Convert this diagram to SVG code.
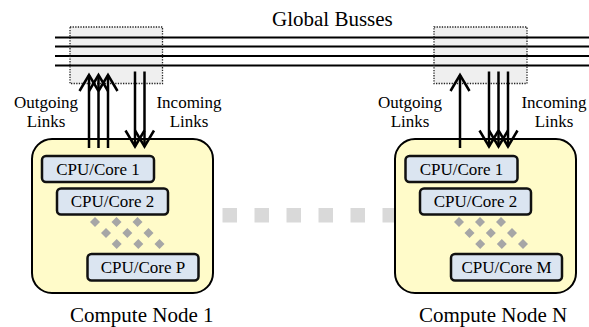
<svg xmlns="http://www.w3.org/2000/svg" width="589" height="327" viewBox="0 0 589 327">
  <style>
    .bus { stroke: #000; stroke-width: 2; }
    .switch { fill: #efefef; stroke: #222; stroke-width: 1.3; stroke-dasharray: 1.3 1.3; }
    .node { fill: #fffbc9; stroke: #000; stroke-width: 2; }
    .core { fill: #dbe5f1; stroke: #111; stroke-width: 2.5; }
    .dot { fill: #a6a6a6; }
    .gap { fill: #d9d9d9; }
    .link { stroke: #000; stroke-width: 2.5; fill: none; marker-end: url(#vhead); }
  </style>
  <defs>
    <marker id="vhead" markerUnits="userSpaceOnUse" viewBox="-20 -12 24 24" refX="0" refY="0" markerWidth="24" markerHeight="24" orient="auto" overflow="visible">
      <path d="M-16,-9.5 L0,0 L-16,9.5" fill="none" stroke="#000" stroke-width="2.5" stroke-linejoin="miter"/>
    </marker>
    <path id="diam" d="M0,-5 L5,0 L0,5 L-5,0 Z"/>
  </defs>

  <!-- global bus with switch boxes -->
  <g id="global-busses">
    <rect class="switch" x="70" y="27" width="92.5" height="56.5" style="stroke:none"/>
    <rect class="switch" x="434" y="27" width="93" height="56.5" style="stroke:none"/>
    <line class="bus" x1="55" y1="37.5" x2="589" y2="37.5"/>
    <line class="bus" x1="55" y1="46.5" x2="589" y2="46.5"/>
    <line class="bus" x1="55" y1="56" x2="589" y2="56"/>
    <line class="bus" x1="55" y1="65.5" x2="589" y2="65.5"/>
    <rect class="switch" x="70" y="27" width="92.5" height="56.5" style="fill:none"/>
    <rect class="switch" x="434" y="27" width="93" height="56.5" style="fill:none"/>
    <text x="272" y="26" font-family="Liberation Serif" font-size="21">Global Busses</text>
  </g>

  <!-- spacer squares between the nodes -->
  <g id="ellipsis">
    <rect class="gap" x="222.5" y="208" width="14.5" height="14.5"/>
    <rect class="gap" x="254.5" y="208" width="14.5" height="14.5"/>
    <rect class="gap" x="286.5" y="208" width="14.5" height="14.5"/>
    <rect class="gap" x="318.5" y="208" width="14.5" height="14.5"/>
    <rect class="gap" x="350.5" y="208" width="14.5" height="14.5"/>
    <rect class="gap" x="382.5" y="208" width="14.5" height="14.5"/>
  </g>

  <!-- compute node 1 -->
  <g id="node-1">
    <rect class="node" x="32" y="139" width="181" height="154" rx="20"/>
    <rect class="core" x="42" y="156" width="112" height="26" rx="4"/>
    <text x="98" y="174.5" text-anchor="middle" font-family="Liberation Serif" font-size="17">CPU/Core 1</text>
    <rect class="core" x="57" y="188.5" width="111" height="26" rx="4"/>
    <text x="112.5" y="207" text-anchor="middle" font-family="Liberation Serif" font-size="17">CPU/Core 2</text>
    <use href="#diam" class="dot" x="95" y="222"/>
    <use href="#diam" class="dot" x="116.5" y="222"/>
    <use href="#diam" class="dot" x="137.5" y="222"/>
    <use href="#diam" class="dot" x="106" y="233"/>
    <use href="#diam" class="dot" x="127.3" y="233"/>
    <use href="#diam" class="dot" x="148.5" y="233"/>
    <use href="#diam" class="dot" x="116.7" y="244"/>
    <use href="#diam" class="dot" x="138.3" y="244"/>
    <use href="#diam" class="dot" x="159.5" y="244"/>
    <rect class="core" x="87.5" y="254" width="111" height="26.5" rx="4"/>
    <text x="143" y="273" text-anchor="middle" font-family="Liberation Serif" font-size="17">CPU/Core P</text>
    <text x="70" y="322" font-family="Liberation Serif" font-size="21">Compute Node 1</text>
  </g>

  <!-- compute node N -->
  <g id="node-n">
    <rect class="node" x="395" y="139" width="181" height="154" rx="20"/>
    <rect class="core" x="405.5" y="156" width="112" height="26" rx="4"/>
    <text x="461.5" y="174.5" text-anchor="middle" font-family="Liberation Serif" font-size="17">CPU/Core 1</text>
    <rect class="core" x="420" y="188.5" width="111" height="26" rx="4"/>
    <text x="475.5" y="207" text-anchor="middle" font-family="Liberation Serif" font-size="17">CPU/Core 2</text>
    <use href="#diam" class="dot" x="459" y="222"/>
    <use href="#diam" class="dot" x="480" y="222"/>
    <use href="#diam" class="dot" x="501" y="222"/>
    <use href="#diam" class="dot" x="469.5" y="233"/>
    <use href="#diam" class="dot" x="490.8" y="233"/>
    <use href="#diam" class="dot" x="512" y="233"/>
    <use href="#diam" class="dot" x="480.2" y="244"/>
    <use href="#diam" class="dot" x="501.8" y="244"/>
    <use href="#diam" class="dot" x="523" y="244"/>
    <rect class="core" x="451" y="254" width="111" height="26.5" rx="4"/>
    <text x="506.5" y="273" text-anchor="middle" font-family="Liberation Serif" font-size="17">CPU/Core M</text>
    <text x="419" y="322" font-family="Liberation Serif" font-size="21">Compute Node N</text>
  </g>

  <!-- links between nodes and the global busses -->
  <g id="connectors">
    <line class="link" x1="89" y1="148" x2="89" y2="75"/>
    <line class="link" x1="98.5" y1="148" x2="98.5" y2="75"/>
    <line class="link" x1="108" y1="148" x2="108" y2="75"/>
    <line class="link" x1="135" y1="71.5" x2="135" y2="146.5"/>
    <line class="link" x1="144.5" y1="71.5" x2="144.5" y2="146.5"/>
    <line class="link" x1="460" y1="148" x2="460" y2="75"/>
    <line class="link" x1="489" y1="71.5" x2="489" y2="146.5"/>
    <line class="link" x1="498.5" y1="71.5" x2="498.5" y2="146.5"/>
    <line class="link" x1="508" y1="71.5" x2="508" y2="146.5"/>
    <text x="46" y="107.5" text-anchor="middle" font-family="Liberation Serif" font-size="17">Outgoing</text>
    <text x="46" y="126.5" text-anchor="middle" font-family="Liberation Serif" font-size="17">Links</text>
    <text x="189" y="107.5" text-anchor="middle" font-family="Liberation Serif" font-size="17">Incoming</text>
    <text x="189" y="126.5" text-anchor="middle" font-family="Liberation Serif" font-size="17">Links</text>
    <text x="410" y="107.5" text-anchor="middle" font-family="Liberation Serif" font-size="17">Outgoing</text>
    <text x="410" y="126.5" text-anchor="middle" font-family="Liberation Serif" font-size="17">Links</text>
    <text x="554" y="107.5" text-anchor="middle" font-family="Liberation Serif" font-size="17">Incoming</text>
    <text x="554" y="126.5" text-anchor="middle" font-family="Liberation Serif" font-size="17">Links</text>
  </g>
</svg>
